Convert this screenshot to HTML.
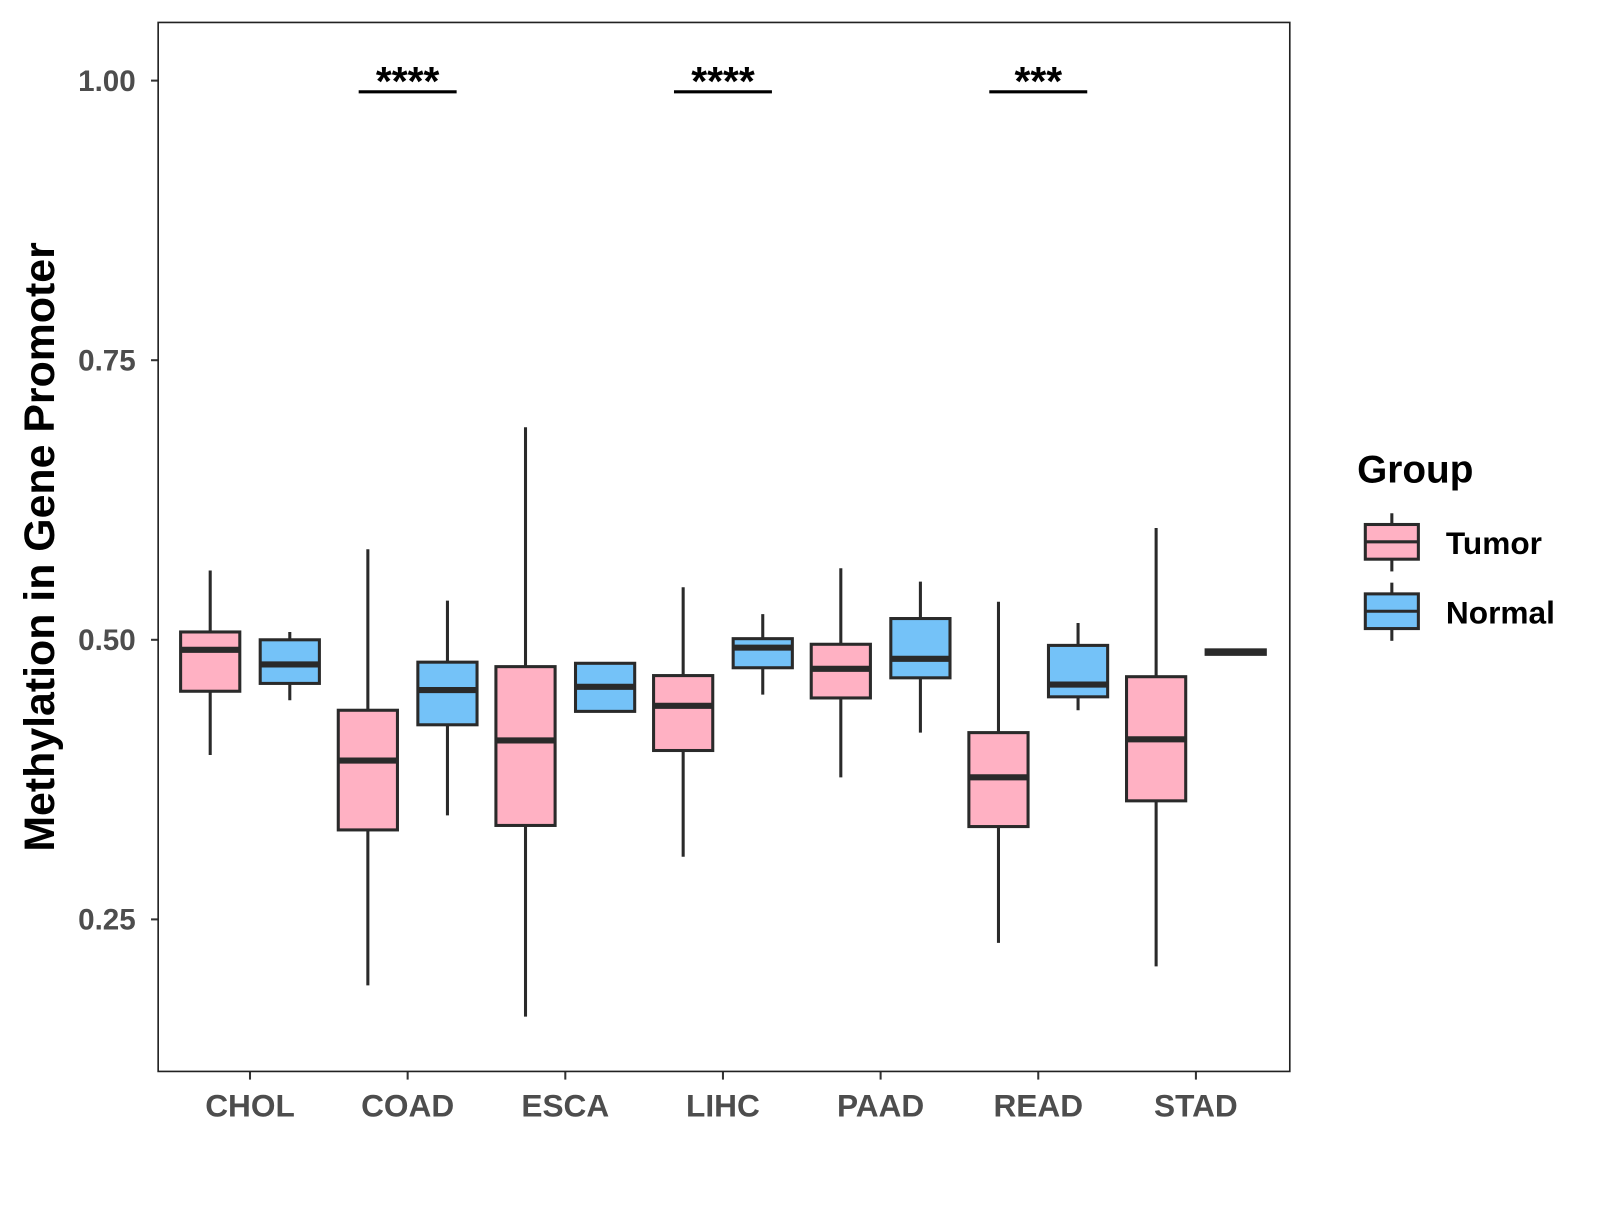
<!DOCTYPE html>
<html><head><meta charset="utf-8"><style>
html,body{margin:0;padding:0;background:#fff;}
svg text{font-family:"Liberation Sans",Arial,sans-serif;font-weight:bold;}
</style></head><body>
<svg id="chart" width="1600" height="1200" viewBox="0 0 1568 1176" xmlns="http://www.w3.org/2000/svg">
<rect x="0" y="0" width="1568" height="1176" fill="#fff"/>
<g id="plot"></g>
<rect x="155" y="22" width="1109" height="1028" fill="none" stroke="#222" stroke-width="1.6"/>
<text x="0" y="0" transform="translate(53,536) rotate(-90)" text-anchor="middle" font-size="42" fill="#000">Methylation in Gene Promoter</text>
<g>
<text x="1330" y="473" font-size="38" fill="#000">Group</text>
<g>
<line x1="1364" y1="503" x2="1364" y2="560" stroke="#2a2a2a" stroke-width="3"/>
<rect x="1338" y="514" width="52" height="34" fill="#FFB1C3" stroke="#2a2a2a" stroke-width="3"/>
<line x1="1338" y1="531" x2="1390" y2="531" stroke="#2a2a2a" stroke-width="3"/>
<text x="1417" y="543" font-size="31" fill="#000">Tumor</text>
</g>
<g>
<line x1="1364" y1="571" x2="1364" y2="628" stroke="#2a2a2a" stroke-width="3"/>
<rect x="1338" y="582" width="52" height="34" fill="#74C2F8" stroke="#2a2a2a" stroke-width="3"/>
<line x1="1338" y1="599" x2="1390" y2="599" stroke="#2a2a2a" stroke-width="3"/>
<text x="1417" y="611" font-size="31" fill="#000">Normal</text>
</g>
</g>
</svg>
<script>
const categories = ["CHOL","COAD","ESCA","LIHC","PAAD","READ","STAD"];
// [lower whisker, q1, median, q3, upper whisker]
const tumorStats = [
 [0.397,0.454,0.491,0.507,0.562],
 [0.191,0.330,0.392,0.437,0.581],
 [0.163,0.334,0.410,0.476,0.690],
 [0.306,0.401,0.441,0.468,0.547],
 [0.377,0.448,0.474,0.496,0.564],
 [0.229,0.333,0.377,0.417,0.534],
 [0.208,0.356,0.411,0.467,0.600]
];
const normalStats = [
 [0.446,0.461,0.478,0.500,0.507],
 [0.343,0.424,0.455,0.480,0.535],
 [0.436,0.436,0.458,0.479,0.479],
 [0.451,0.475,0.493,0.501,0.523],
 [0.417,0.466,0.483,0.519,0.552],
 [0.437,0.449,0.460,0.495,0.515],
 [0.486,0.487,0.489,0.491,0.492]
];
const yTicks = [0.25,0.50,0.75,1.00];
const yTickLabels = ["0.25","0.50","0.75","1.00"];
const sigCategories = ["COAD","LIHC","READ"];
const sigLabels = ["****","****","***"];
const sigLevel = 0.990;

const NS="http://www.w3.org/2000/svg";
const g=document.getElementById('plot');
function y(v){return 79+(1-v)*1096;}
function x(i){return 245+i*154.5;}
function mk(tag,attrs){const e=document.createElementNS(NS,tag);for(const k in attrs)e.setAttribute(k,attrs[k]);g.appendChild(e);return e;}

yTicks.forEach((t,i)=>{
 const tk=mk('line',{x1:148,x2:155,y1:y(t),y2:y(t),stroke:'#333','stroke-width':2});
 
 
 const tx=mk('text',{x:133,y:y(t)+10,'text-anchor':'end','font-size':29,fill:'#4d4d4d'});
 tx.textContent=yTickLabels[i];
 
 
});
categories.forEach((c,i)=>{
 const tk=mk('line',{x1:x(i),x2:x(i),y1:1050,y2:1058,stroke:'#333','stroke-width':2});
 
 
 const tx=mk('text',{x:x(i),y:1094,'text-anchor':'middle','font-size':31,fill:'#4d4d4d'});
 tx.textContent=c;
 
 
});
function box(cx,s,fill,name){
 const [lo,q1,md,q3,hi]=s;
 const w=mk('line',{x1:cx,x2:cx,y1:y(hi),y2:y(lo),stroke:'#2a2a2a','stroke-width':3});
 
 
 const r=mk('rect',{x:cx-29,width:58,y:y(q3),height:Math.max(1,y(q1)-y(q3)),fill:fill,stroke:'#2a2a2a','stroke-width':3});
 
 
 const m=mk('line',{x1:cx-29,x2:cx+29,y1:y(md),y2:y(md),stroke:'#2a2a2a','stroke-width':6});
 
 
}
categories.forEach((c,i)=>{
 box(x(i)-39,tumorStats[i],'#FFB1C3','tumor-'+c.toLowerCase());
 box(x(i)+39,normalStats[i],'#74C2F8','normal-'+c.toLowerCase());
});
sigCategories.forEach((c,k)=>{
 const i=categories.indexOf(c);
 const l=mk('line',{x1:x(i)-48,x2:x(i)+48,y1:y(sigLevel),y2:y(sigLevel),stroke:'#000','stroke-width':3});
 
 
 const t=mk('text',{x:x(i),y:y(sigLevel)+3,'text-anchor':'middle','font-size':40,fill:'#000'});
 t.textContent=sigLabels[k];
 
 
});
</script>
</body></html>
